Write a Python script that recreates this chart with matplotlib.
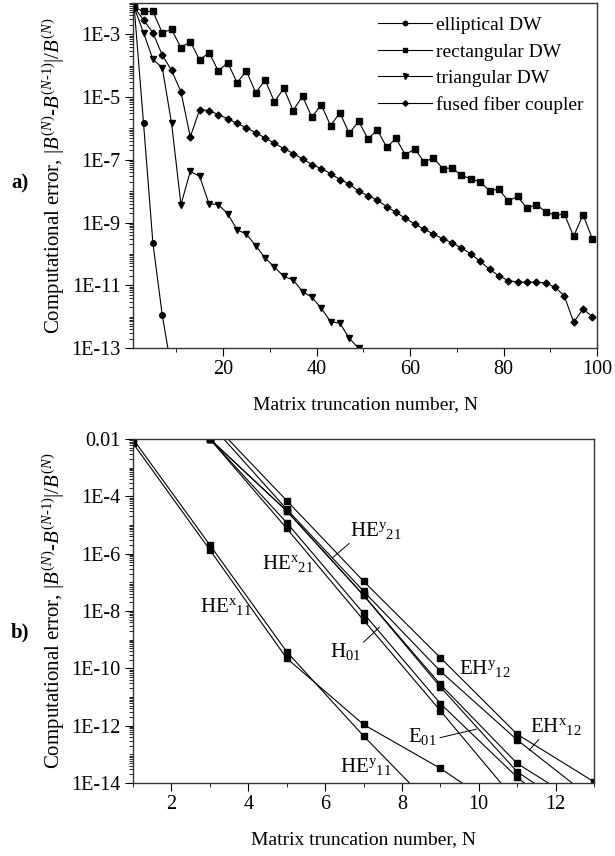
import numpy as np
import matplotlib.pyplot as plt
from matplotlib.ticker import FixedLocator, FixedFormatter, LogLocator, NullFormatter, MultipleLocator

plt.rcParams['font.family'] = ['Liberation Serif', 'DejaVu Serif']
plt.rcParams['mathtext.fontset'] = 'custom'
plt.rcParams['mathtext.rm'] = 'Liberation Serif'
plt.rcParams['mathtext.it'] = 'Liberation Serif:italic'
plt.rcParams['mathtext.bf'] = 'Liberation Serif:bold'

# ---- panel a) : log10 of computational error vs truncation number N ----
n_ellip = [1, 3, 5, 7, 9]
ellip_log = [-2.14, -5.84, -9.65, -11.95, -13.7]

n_rect = list(range(1, 100, 2))
rect_log = [-2.14, -2.27, -2.27, -2.95, -2.84, -3.43, -3.23, -3.82, -3.58, -4.17,
            -3.90, -4.54, -4.17, -4.86, -4.46, -5.15, -4.72, -5.43, -4.97, -5.64,
            -5.24, -5.91, -5.50, -6.16, -5.77, -6.33, -6.05, -6.60, -6.32, -6.84,
            -6.65, -7.07, -6.94, -7.28, -7.26, -7.50, -7.60, -7.71, -7.98, -7.94,
            -8.31, -8.17, -8.54, -8.43, -8.65, -8.77, -8.73, -9.44, -8.75, -9.52]

n_tri = list(range(1, 50, 2))
tri_log = [-2.14, -2.95, -3.80, -4.06, -5.84, -8.43, -7.37, -7.53, -8.40, -8.43,
           -8.72, -9.23, -9.37, -9.74, -10.13, -10.42, -10.72, -10.83, -11.20, -11.38,
           -11.73, -12.16, -12.21, -12.69, -13.01]

n_fused = list(range(1, 100, 2))
fused_log = [-2.14, -2.54, -2.95, -3.66, -4.15, -4.83, -6.27, -5.40, -5.43, -5.56,
             -5.69, -5.84, -5.98, -6.14, -6.30, -6.48, -6.64, -6.80, -6.97, -7.15,
             -7.28, -7.44, -7.63, -7.77, -8.00, -8.14, -8.29, -8.49, -8.68, -8.86,
             -9.05, -9.21, -9.37, -9.52, -9.65, -9.81, -10.00, -10.24, -10.49, -10.70,
             -10.85, -10.90, -10.90, -10.90, -10.93, -11.06, -11.34, -12.18, -11.76, -12.00]

# ---- panel b) : modes ----
n_he11 = [1, 3, 5, 7, 9, 11]
he11a_log = [-2.0, -5.70, -9.42, -12.36, -15.1]
he11b_log = [-2.15, -5.87, -9.65, -11.96, -13.49, -15.3]

n_hi = [3, 5, 7, 9, 11, 13]
mode_logs = [
    [-1.34, -4.15, -6.96, -9.63, -12.30, -13.96],
    [-1.46, -4.45, -7.31, -10.10, -12.50, -14.6],
    [-2.0, -4.51, -7.45, -10.56, -13.32, -15.0],
    [-2.0, -4.51, -7.45, -10.65, -13.61, -15.4],
    [-2.0, -4.92, -8.08, -11.23, -13.80, -16.0],
    [-2.0, -5.12, -8.32, -11.48, -14.68],
]

top_ytick_vals = [1e-13, 1e-11, 1e-9, 1e-7, 1e-5, 1e-3]
top_ytick_labels = ['1E-13', '1E-11', '1E-9', '1E-7', '1E-5', '1E-3']
bot_ytick_vals = [1e-14, 1e-12, 1e-10, 1e-8, 1e-6, 1e-4, 1e-2]
bot_ytick_labels = ['1E-14', '1E-12', '1E-10', '1E-8', '1E-6', '1E-4', '0.01']

ylabel = r'Computational error, $|B^{(N)}$-$B^{(N\text{-}1)}|/B^{(N)}$'

fig = plt.figure(figsize=(6.15, 8.56), dpi=100)
ax1 = fig.add_axes([0.2163, 0.5935, 0.7545, 0.403])
ax2 = fig.add_axes([0.2163, 0.0853, 0.7496, 0.4019])

lw = 0.8
ax1.plot(n_ellip, 10.0 ** np.array(ellip_log), '-o', color='k', lw=lw, ms=4, label='elliptical DW')
ax1.plot(n_rect, 10.0 ** np.array(rect_log), '-s', color='k', lw=lw, ms=4, label='rectangular DW')
ax1.plot(n_tri, 10.0 ** np.array(tri_log), '-v', color='k', lw=lw, ms=4.5, label='triangular DW')
ax1.plot(n_fused, 10.0 ** np.array(fused_log), '-D', color='k', lw=lw, ms=3.5, label='fused fiber coupler')

ax1.set_yscale('log')
ax1.set_xlim(0.75, 100)
ax1.set_ylim(1e-13, 1e-2)
ax1.yaxis.set_major_locator(FixedLocator(top_ytick_vals))
ax1.yaxis.set_major_formatter(FixedFormatter(top_ytick_labels))
ax1.yaxis.set_minor_locator(LogLocator(base=10, subs=np.arange(1, 10), numticks=50))
ax1.yaxis.set_minor_formatter(NullFormatter())
ax1.xaxis.set_major_locator(FixedLocator([20, 40, 60, 80, 100]))
ax1.xaxis.set_minor_locator(MultipleLocator(10))
ax1.set_xlabel('Matrix truncation number, N', fontsize=14, labelpad=12)
ax1.set_ylabel(ylabel, fontsize=15)
ax1.yaxis.set_label_coords(-0.142, 0.5)
ax1.legend(loc='upper right', frameon=False, fontsize=14, handlelength=2.8,
           labelspacing=0.45, borderaxespad=0.3, handletextpad=0.2, markerscale=0.8)

for n_vals, logs in [(n_he11[:5], he11a_log), (n_he11, he11b_log)]:
    ax2.plot(n_vals, 10.0 ** np.array(logs), '-s', color='k', lw=lw, ms=4.5)
for logs in mode_logs:
    ax2.plot(n_hi[:len(logs)], 10.0 ** np.array(logs), '-s', color='k', lw=lw, ms=4.5)

ax2.set_yscale('log')
ax2.set_xlim(1, 13)
ax2.set_ylim(1e-14, 1e-2)
ax2.yaxis.set_major_locator(FixedLocator(bot_ytick_vals))
ax2.yaxis.set_major_formatter(FixedFormatter(bot_ytick_labels))
ax2.yaxis.set_minor_locator(LogLocator(base=10, subs=np.arange(1, 10), numticks=50))
ax2.yaxis.set_minor_formatter(NullFormatter())
ax2.xaxis.set_major_locator(FixedLocator([2, 4, 6, 8, 10, 12]))
ax2.xaxis.set_minor_locator(MultipleLocator(1))
ax2.set_xlabel('Matrix truncation number, N', fontsize=14, labelpad=12)
ax2.set_ylabel(ylabel, fontsize=15)
ax2.yaxis.set_label_coords(-0.143, 0.5)

fs = 15
line_kw = dict(arrowstyle='-', color='k', lw=0.7, shrinkA=0, shrinkB=0)
ax2.text(4.35, 10 ** -6.33, r'HE$^{\rm x}$$_{\rm 21}$', fontsize=fs, va='center')
ax2.text(2.74, 10 ** -7.86, r'HE$^{\rm x}$$_{\rm 11}$', fontsize=fs, va='center')
ax2.text(9.49, 10 ** -9.99, r'EH$^{\rm y}$$_{\rm 12}$', fontsize=fs, va='center')
ax2.text(6.38, 10 ** -13.41, r'HE$^{\rm y}$$_{\rm 11}$', fontsize=fs, va='center')
ax2.annotate(r'HE$^{\rm y}$$_{\rm 21}$', xy=(6.19, 10 ** -6.15), xytext=(6.64, 10 ** -5.18),
             fontsize=fs, va='center', arrowprops=dict(relpos=(0.1, 0.1), **line_kw))
ax2.annotate(r'H$_{\rm 01}$', xy=(7.42, 10 ** -8.56), xytext=(6.12, 10 ** -9.40),
             fontsize=fs, va='center', arrowprops=dict(relpos=(1.0, 0.8), **line_kw))
ax2.annotate(r'E$_{\rm 01}$', xy=(9.94, 10 ** -12.12), xytext=(8.17, 10 ** -12.37),
             fontsize=fs, va='center', arrowprops=dict(relpos=(1.0, 0.4), **line_kw))
ax2.annotate(r'EH$^{\rm x}$$_{\rm 12}$', xy=(11.31, 10 ** -12.86), xytext=(11.34, 10 ** -12.02),
             fontsize=fs, va='center', arrowprops=dict(relpos=(0.25, 0.1), **line_kw))

for ax in (ax1, ax2):
    ax.tick_params(which='both', direction='out', top=False, right=False, labelsize=14.5, pad=3)
    ax.tick_params(which='major', length=6, width=0.8)
    ax.tick_params(which='minor', length=3, width=0.6)
    for s in ax.spines.values():
        s.set_linewidth(1.0)
        s.set_color('#333333')

fig.text(20 / 615, 1 - 183 / 856, 'a)', fontsize=15, va='center', ha='center', fontweight='bold')
fig.text(20 / 615, 1 - 632 / 856, 'b)', fontsize=15, va='center', ha='center', fontweight='bold')

fig.savefig('out.png', dpi=100)
